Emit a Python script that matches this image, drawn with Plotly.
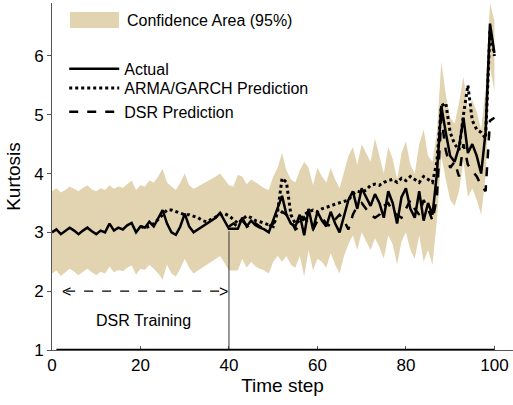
import plotly.graph_objects as go

time_step = list(range(0, 101))

actual = [3.00, 3.05, 2.97, 3.02, 3.08, 3.03, 2.97, 3.03, 3.08, 3.02,
          2.97, 3.03, 3.00, 3.15, 3.03, 3.08, 3.05, 3.12, 3.16, 3.00,
          3.10, 3.08, 3.18, 3.10, 3.25, 3.38, 3.15, 3.00, 2.96, 3.10,
          3.32, 3.10, 3.00, 3.05, 3.10, 3.15, 3.20, 3.25, 3.33, 3.20,
          3.06, 3.06, 3.06, 3.25, 3.10, 3.20, 3.12, 3.08, 3.05, 3.00,
          3.20, 3.40, 3.62, 3.30, 3.15, 3.10, 3.30, 2.95, 3.40, 3.05,
          3.35, 3.20, 3.10, 3.35, 3.15, 3.00, 3.30, 3.55, 3.70, 3.40,
          3.75, 3.60, 3.45, 3.65, 3.50, 3.25, 3.70, 3.50, 3.15, 3.60,
          3.75, 3.40, 3.25, 3.70, 3.20, 3.50, 3.30, 4.00, 5.15, 4.70,
          4.30, 4.20, 4.45, 4.95, 4.35, 4.50, 4.30, 4.00, 4.70, 6.55,
          6.05]

arma_x = list(range(20, 101))
arma = [3.10, 3.08, 3.10, 3.15, 3.22, 3.30, 3.38, 3.38, 3.35, 3.32,
        3.30, 3.30, 3.28, 3.25, 3.20, 3.18, 3.22, 3.26, 3.30, 3.32,
        3.28, 3.22, 3.15, 3.22, 3.28, 3.25, 3.20, 3.18, 3.15, 3.12,
        3.10, 3.35, 3.92, 3.85, 3.30, 3.15, 3.20, 3.30, 3.35, 3.38,
        3.35, 3.40, 3.42, 3.45, 3.48, 3.50, 3.52, 3.55, 3.65, 3.70,
        3.68, 3.72, 3.80, 3.82, 3.80, 3.85, 3.88, 3.90, 3.85, 3.92,
        3.88, 3.95, 3.90, 3.85, 3.95, 3.90, 3.85, 4.20, 5.15, 5.20,
        4.70, 4.50, 4.40, 5.00, 5.50, 4.90, 4.75, 4.70, 4.60, 6.45,
        6.00]

dsr_x = list(range(40, 101))
dsr = [3.10, 3.15, 3.10, 3.20, 3.12, 3.05, 3.15, 3.10, 3.05, 3.10,
       3.15, 3.25, 3.35, 3.30, 3.20, 3.05, 3.10, 3.25, 3.15, 3.05,
       3.20, 3.25, 3.15, 3.10, 3.22, 3.30, 3.20, 3.05, 3.30, 3.45,
       3.50, 3.40, 3.30, 3.25, 3.30, 3.45, 3.50, 3.35, 3.30, 3.25,
       3.40, 3.55, 3.40, 3.30, 3.55, 3.40, 3.20, 3.60, 4.95, 4.40,
       4.10, 4.20, 3.95, 4.50, 4.15, 4.05, 3.95, 3.80, 3.70, 4.90,
       4.95]

upper = [3.70, 3.75, 3.68, 3.72, 3.78, 3.74, 3.70, 3.76, 3.80, 3.73,
         3.70, 3.75, 3.72, 3.80, 3.74, 3.78, 3.76, 3.82, 3.88, 3.72,
         3.80, 3.78, 3.88, 3.85, 3.95, 4.08, 3.85, 3.78, 3.72, 3.85,
         4.00, 3.80, 3.74, 3.78, 3.82, 3.86, 3.90, 3.95, 4.00, 3.90,
         3.80, 3.78, 3.98, 3.95, 3.82, 3.90, 3.85, 3.80, 3.75, 3.72,
         3.95, 4.10, 4.35, 4.05, 3.90, 3.85, 4.05, 4.20, 4.10, 3.80,
         4.10, 3.95, 3.85, 4.10, 3.90, 3.75, 4.05, 4.30, 4.45, 4.15,
         4.50, 4.35, 4.20, 4.60, 4.30, 4.00, 4.45, 4.25, 3.90, 4.35,
         4.55, 4.15, 4.00, 4.50, 4.75, 4.30, 4.20, 4.70, 5.90, 5.35,
         4.95, 4.85, 5.20, 5.65, 5.10, 5.25, 5.05, 4.75, 5.45, 6.90,
         6.60]

lower = [2.30, 2.35, 2.26, 2.32, 2.38, 2.33, 2.27, 2.33, 2.38, 2.32,
         2.27, 2.33, 2.30, 2.42, 2.32, 2.36, 2.34, 2.40, 2.44, 2.28,
         2.38, 2.36, 2.45, 2.38, 2.30, 2.20, 2.45, 2.30, 2.25, 2.38,
         2.55, 2.40, 2.30, 2.35, 2.40, 2.45, 2.50, 2.55, 2.60, 2.48,
         2.35, 2.35, 2.35, 2.55, 2.40, 2.50, 2.42, 2.38, 2.35, 2.30,
         2.50, 2.60, 2.50, 2.60, 2.45, 2.40, 2.60, 2.25, 2.70, 2.35,
         2.55, 2.50, 2.40, 2.65, 2.45, 2.30, 2.60, 2.80, 2.95, 2.70,
         3.00, 2.85, 2.70, 2.90, 2.75, 2.55, 2.95, 2.80, 2.45, 2.85,
         3.00, 2.70, 2.55, 2.95, 2.50, 2.70, 2.45, 3.20, 4.30, 3.90,
         3.55, 3.45, 3.70, 4.20, 3.60, 3.75, 3.55, 3.30, 3.95, 5.80,
         5.40]

x_ticks = [0, 20, 40, 60, 80, 100]
y_ticks = [1, 2, 3, 4, 5, 6]

FONT = "Liberation Sans, Arial, sans-serif"
BAND = "#E3D4B1"

fig = go.Figure()

# confidence band
fig.add_trace(go.Scatter(x=time_step, y=lower, mode="lines", line=dict(width=0),
                         showlegend=False, hoverinfo="skip"))
fig.add_trace(go.Scatter(x=time_step, y=upper, mode="lines", line=dict(width=0),
                         fill="tonexty", fillcolor=BAND, name="Confidence Area (95%)",
                         showlegend=False))

fig.add_trace(go.Scatter(x=arma_x, y=arma, mode="lines", name="ARMA/GARCH Prediction",
                         line=dict(color="black", width=3, dash="dot"), legend="legend3"))
fig.add_trace(go.Scatter(x=dsr_x, y=dsr, mode="lines", name="DSR Prediction",
                         line=dict(color="black", width=2.5, dash="dash"), legend="legend4"))
fig.add_trace(go.Scatter(x=time_step, y=actual, mode="lines", name="Actual",
                         line=dict(color="black", width=2.5), legend="legend2"))

# legend entry for the confidence band
fig.add_shape(type="rect", xref="paper", yref="paper", x0=0.039, x1=0.1453,
              y0=0.928, y1=0.974, fillcolor=BAND, line=dict(width=0), layer="above")
fig.add_annotation(xref="paper", yref="paper", x=0.158, y=0.951, xanchor="left",
                   yanchor="middle", text="Confidence Area (95%)", showarrow=False,
                   font=dict(family=FONT, size=16, color="black"))

# DSR training marker
fig.add_shape(type="line", x0=40, x1=40, y0=1, y1=3.02, xref="x", yref="y",
              line=dict(color="#333333", width=1))
fig.add_shape(type="line", x0=3.2, x1=38.8, y0=2, y1=2, xref="x", yref="y",
              line=dict(color="black", width=1.2, dash="dash"))
fig.add_annotation(x=3.3, y=2, text="<", showarrow=False, xanchor="center",
                   font=dict(family=FONT, size=16, color="black"))
fig.add_annotation(x=38.7, y=2, text=">", showarrow=False, xanchor="center",
                   font=dict(family=FONT, size=16, color="black"))
fig.add_annotation(x=20.6, y=1.5, text="DSR Training", showarrow=False,
                   font=dict(family=FONT, size=16, color="black"))
# thick baseline
fig.add_shape(type="line", x0=1, x1=100, y0=1, y1=1, xref="x", yref="y",
              line=dict(color="black", width=2.5))

leg = dict(xanchor="left", yanchor="top", bgcolor="rgba(0,0,0,0)",
           font=dict(size=16), itemwidth=50, x=0.0265)

fig.update_layout(
    width=513, height=405,
    margin=dict(l=52, r=0, t=3, b=55),
    paper_bgcolor="white", plot_bgcolor="white",
    font=dict(family=FONT, size=16, color="black"),
    legend2=dict(leg, y=0.859),
    legend3=dict(leg, y=0.804),
    legend4=dict(leg, y=0.735),
    xaxis=dict(range=[0, 104.2], tickvals=x_ticks, showgrid=False, zeroline=False,
               showline=True, linecolor="#555555", linewidth=1,
               ticks="inside", ticklen=4, tickcolor="#555555",
               tickfont=dict(size=17),
               title=dict(text="Time step", font=dict(size=19), standoff=2)),
    yaxis=dict(range=[1, 6.9], tickvals=y_ticks, showgrid=False, zeroline=False,
               showline=True, linecolor="#555555", linewidth=1,
               ticks="outside", ticklen=4, tickcolor="#555555",
               tickfont=dict(size=17),
               title=dict(text="Kurtosis", font=dict(size=19), standoff=8)),
)

fig.write_html("out.html")
